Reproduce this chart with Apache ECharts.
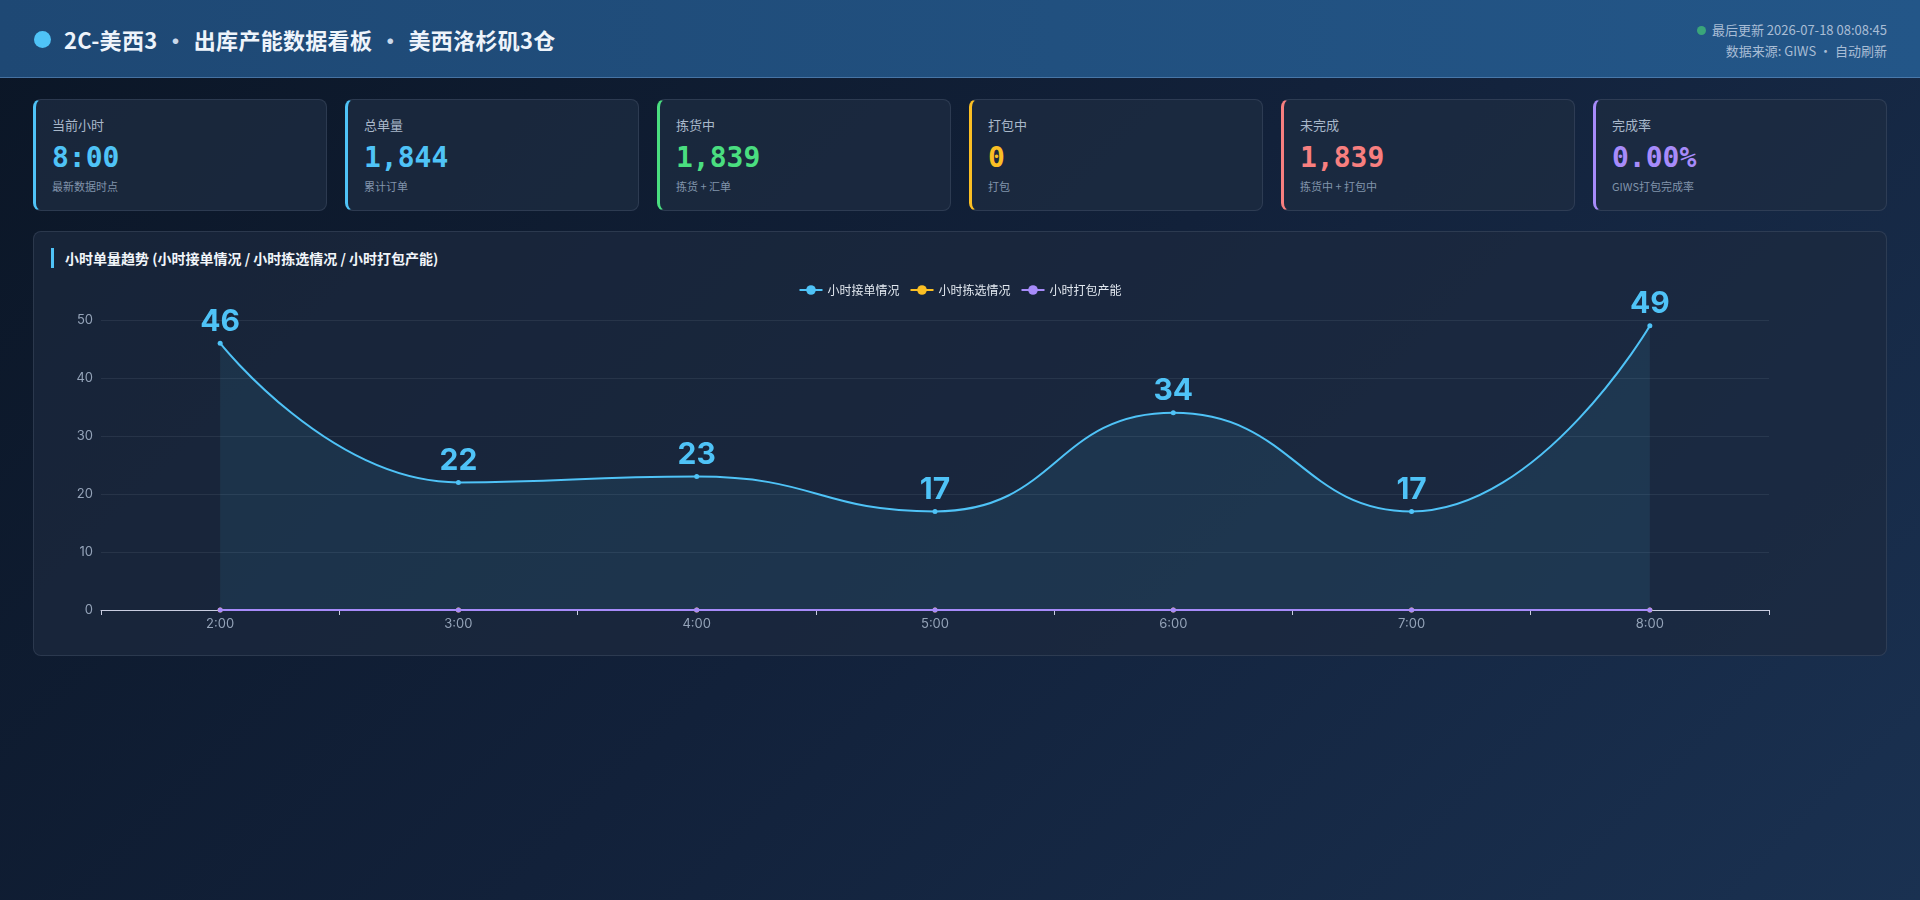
<!DOCTYPE html>
<html lang="zh-CN">
<head>
<meta charset="utf-8">
<title>2C-美西3 出库产能数据看板</title>
<script src="https://cdn.jsdelivr.net/npm/echarts@6/dist/echarts.min.js"></script>
<style>
  html, body { margin: 0; padding: 0; width: 1920px; height: 900px; overflow: hidden; }
  body {
    font-family: Inter, "Noto Sans CJK SC", "Noto Sans", sans-serif;
    background: linear-gradient(135deg, #0b1626 0%, #12213a 50%, #1a3151 100%);
    color: #e2e8f0;
    position: relative;
  }
  .header {
    position: absolute; left: 0; top: 0; width: 1920px; height: 78px;
    background: linear-gradient(90deg, #1e4874 0%, #21507f 55%, #235688 100%);
    border-bottom: 1px solid rgba(120, 165, 215, 0.45);
    box-sizing: border-box;
  }
  .title {
    position: absolute; left: 34px; top: 22px; height: 34px;
    display: flex; align-items: center;
    font-size: 22px; font-weight: 700; color: #eef4fb; letter-spacing: 0.3px;
    font-family: "Noto Sans CJK SC", sans-serif;
  }
  .title .dot {
    width: 17px; height: 17px; border-radius: 50%; background: #4fc3f7; margin-right: 13px;
  }
  .title .sep { color: #c9d8ea; margin: 0 7px; }
  .meta {
    position: absolute; right: 33px; top: 19px; text-align: right;
    font-size: 13px; line-height: 21px; color: #a9bdd5;
    font-family: "Noto Sans CJK SC", sans-serif;
  }
  .meta .gdot {
    display: inline-block; width: 9px; height: 9px; border-radius: 50%;
    background: #3aa57a; margin-right: 6px; vertical-align: 0px;
  }
  .cards {
    position: absolute; left: 33px; top: 99px; width: 1854px; height: 112px;
    display: flex; gap: 18px;
  }
  .card {
    flex: 1; height: 112px; box-sizing: border-box; position: relative;
    background: rgba(30, 44, 66, 0.75);
    border: 1px solid rgba(148, 163, 184, 0.16);
    border-left: 3px solid #4fc3f7;
    border-radius: 8px;
    padding-left: 16px;
    font-family: "Noto Sans CJK SC", sans-serif;
  }
  .card .lab { position: absolute; top: 15px; font-size: 13px; color: #a9b8ca; }
  .card .val {
    position: absolute; top: 41px; font-size: 28px; font-weight: 700;
    font-family: "DejaVu Sans Mono", "Liberation Mono", monospace;
  }
  .card .sub { position: absolute; top: 78px; font-size: 11px; color: #8194ab; }
  .panel {
    position: absolute; left: 33px; top: 231px; width: 1854px; height: 425px;
    box-sizing: border-box;
    background: rgba(28, 41, 62, 0.7);
    border: 1px solid rgba(148, 163, 184, 0.16);
    border-radius: 8px;
  }
  .panel .ptitle {
    position: absolute; left: 17px; top: 16px; height: 20px;
    border-left: 3px solid #4fc3f7; padding-left: 11px;
    font-size: 14px; font-weight: 700; color: #f1f5f9; line-height: 20px;
    font-family: "Noto Sans CJK SC", sans-serif;
  }
  #chart { position: absolute; left: 51px; top: 275px; width: 1818px; height: 370px; }
</style>
</head>
<body>
<div class="header">
  <div class="title"><span class="dot"></span>2C-美西3<span class="sep">·</span>出库产能数据看板<span class="sep">·</span>美西洛杉矶3仓</div>
  <div class="meta">
    <div><span class="gdot"></span>最后更新 2026-07-18 08:08:45</div>
    <div>数据来源: GIWS · 自动刷新</div>
  </div>
</div>

<div class="cards" id="cards"></div>

<div class="panel">
  <div class="ptitle">小时单量趋势 (小时接单情况 / 小时拣选情况 / 小时打包产能)</div>
</div>
<div id="chart"></div>

<script>
// ---- KPI cards ----
const cardLabels = ['当前小时', '总单量', '拣货中', '打包中', '未完成', '完成率'];
const cardValues = ['8:00', '1,844', '1,839', '0', '1,839', '0.00%'];
const cardSubs = ['最新数据时点', '累计订单', '拣货 + 汇单', '打包', '拣货中 + 打包中', 'GIWS打包完成率'];
const cardColors = ['#4fc3f7', '#4fc3f7', '#4ade80', '#fbbf24', '#f87f7f', '#a78bfa'];

// ---- chart data ----
const hours = ['2:00', '3:00', '4:00', '5:00', '6:00', '7:00', '8:00'];
const orderReceived = [46, 22, 23, 17, 34, 17, 49];   // 小时接单情况
const pickedHourly = [0, 0, 0, 0, 0, 0, 0];           // 小时拣选情况
const packedHourly = [0, 0, 0, 0, 0, 0, 0];           // 小时打包产能
const seriesNames = ['小时接单情况', '小时拣选情况', '小时打包产能'];
const seriesColors = ['#4fc3f7', '#fbbf24', '#a78bfa'];

const cardsEl = document.getElementById('cards');
cardLabels.forEach((l, i) => {
  const c = document.createElement('div');
  c.className = 'card';
  c.style.borderLeftColor = cardColors[i];
  c.innerHTML = '<div class="lab">' + l + '</div>' +
    '<div class="val" style="color:' + cardColors[i] + '">' + cardValues[i] + '</div>' +
    '<div class="sub">' + cardSubs[i] + '</div>';
  cardsEl.appendChild(c);
});

const chart = echarts.init(document.getElementById('chart'), null, { renderer: 'canvas' });
const seriesData = [orderReceived, pickedHourly, packedHourly];
chart.setOption({
  animation: false,
  textStyle: { fontFamily: 'Inter, "Noto Sans CJK SC", sans-serif' },
  legend: {
    top: 4, left: 'center',
    itemWidth: 23, itemHeight: 12, itemGap: 10,
    textStyle: { color: '#e2e8f0', fontSize: 12, fontFamily: '"Noto Sans CJK SC", sans-serif' },
    data: seriesNames
  },
  grid: { left: 50, right: 100, top: 45, bottom: 35 },
  xAxis: {
    type: 'category',
    data: hours,
    boundaryGap: true,
    axisLine: { lineStyle: { color: '#c9cde0', width: 1 } },
    axisTick: { show: true, length: 5, lineStyle: { color: '#c9cde0' } },
    axisLabel: { color: '#94a3b8', fontSize: 13, margin: 8 }
  },
  yAxis: {
    type: 'value',
    min: 0, max: 50, interval: 10,
    axisLine: { show: false },
    axisTick: { show: false },
    axisLabel: { color: '#94a3b8', fontSize: 13, margin: 8 },
    splitLine: { lineStyle: { color: 'rgba(148,163,184,0.12)' } }
  },
  series: seriesNames.map((n, i) => ({
    name: n,
    type: 'line',
    data: seriesData[i],
    smooth: true,
    symbol: 'circle',
    symbolSize: 5,
    z: i === 2 ? 5 : (i === 1 ? 4 : 3),
    itemStyle: { color: seriesColors[i] },
    lineStyle: { color: seriesColors[i], width: 2 },
    areaStyle: i === 0 ? { color: 'rgba(79,195,247,0.13)' } : undefined,
    label: i === 0 ? {
      show: true, position: 'top', distance: 4,
      color: '#4fc3f7', fontSize: 30, fontWeight: 'bold',
      fontFamily: 'Inter, sans-serif'
    } : { show: false }
  }))
});
</script>
</body>
</html>
